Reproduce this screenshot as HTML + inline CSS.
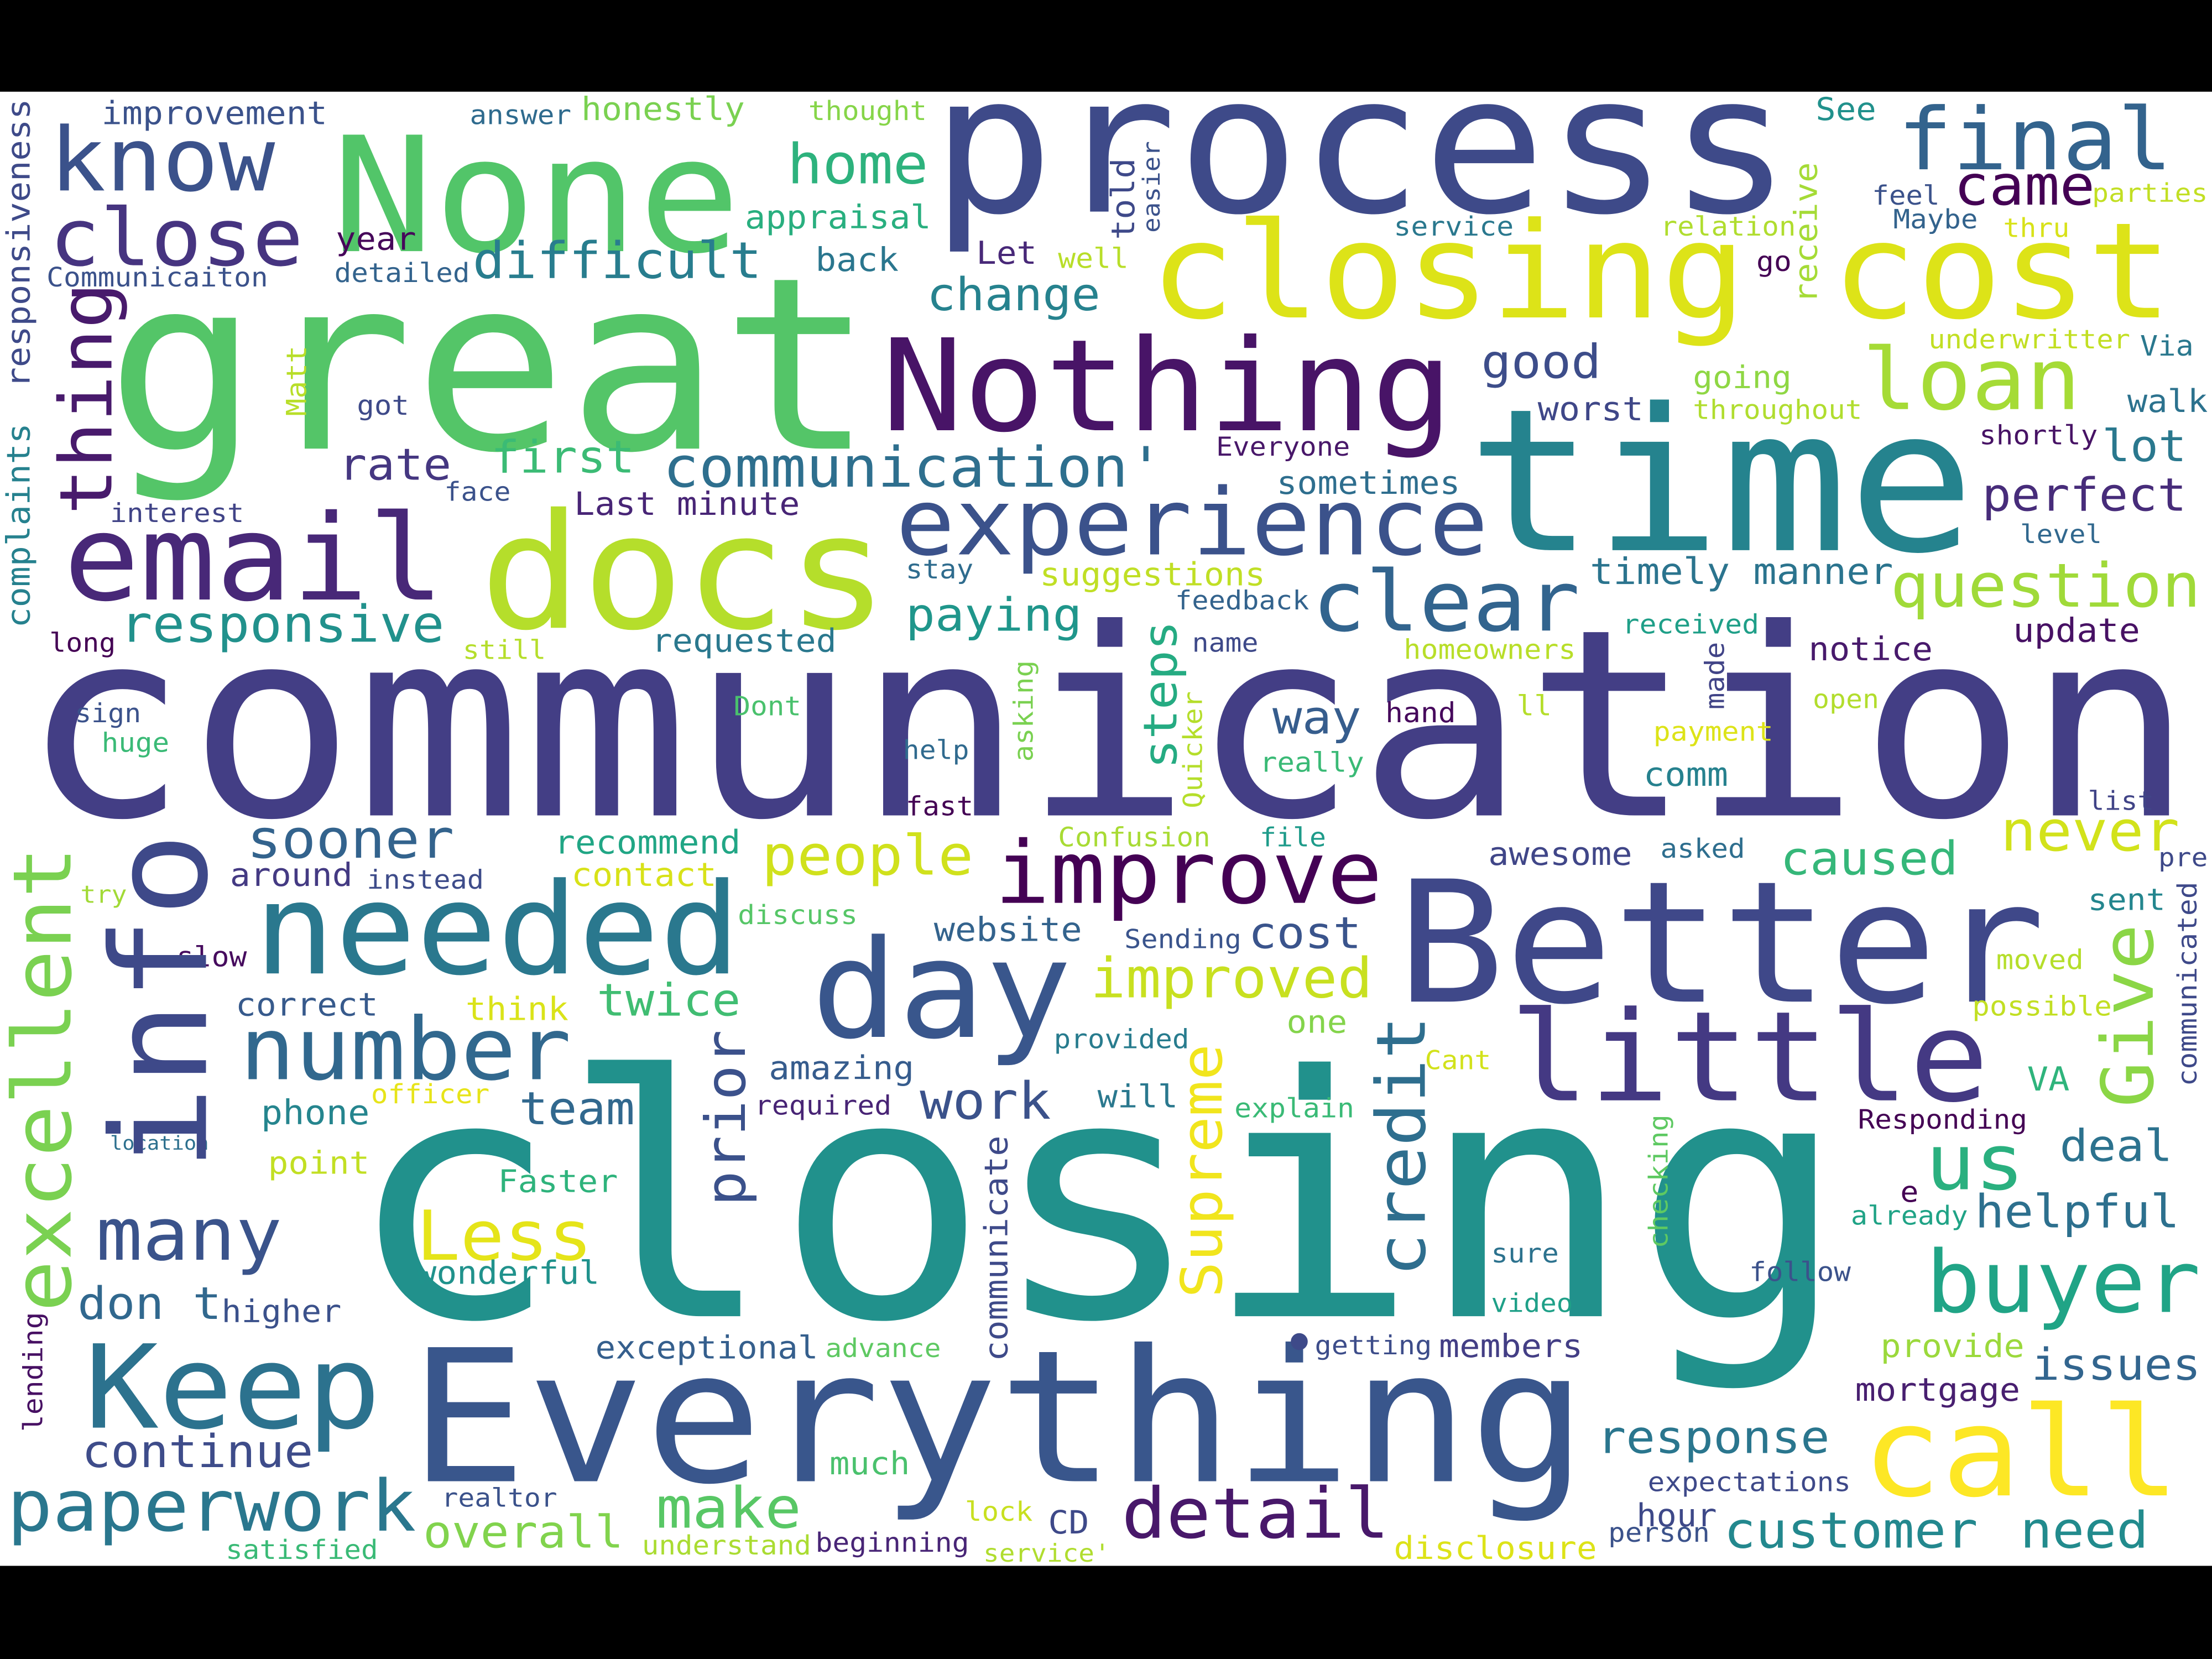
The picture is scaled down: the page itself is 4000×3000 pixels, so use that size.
<!DOCTYPE html>
<html><head><meta charset="utf-8"><title>Word cloud</title>
<style>html,body{margin:0;padding:0;background:#000}svg{display:block}</style></head>
<body>
<svg id="cloud" xmlns="http://www.w3.org/2000/svg" width="4000" height="3000" viewBox="0 0 1568 1176" preserveAspectRatio="none">
<rect x="0" y="0" width="1568" height="65" fill="#000"/>
<rect x="0" y="65" width="1568" height="1045" fill="#fff"/>
<rect x="0" y="1110" width="1568" height="66" fill="#000"/>
<g id="words"></g>
</svg>
<script>
// [text, x, baselineY, width, color, rotated]  (rotated: x = baseline x, y = start (bottom))
const words = [
["communication",15,578,1540,"#433e85",0],
["closing",245,933,1065,"#21918c",0],
["great",75,318,545,"#54c568",0],
["process",660,150,610,"#3e4a89",0],
["None",235,178,290,"#52c569",0],
["time",1040,390,360,"#25838e",0],
["closing cost",815,225,725,"#dde318",0],
["Nothing",625,305,405,"#481467",0],
["docs",340,445,290,"#b5de2b",0],
["email",45,425,270,"#482878",0],
["experience",635,393,420,"#3b528b",0],
["Better",990,710,460,"#3f4889",0],
["Everything",290,1050,835,"#39568c",0],
["day",575,735,185,"#39568c",0],
["needed",180,690,345,"#2a788e",0],
["little",1070,780,340,"#443983",0],
["improve",705,640,275,"#440154",0],
["number",170,765,235,"#31688e",0],
["Keep",60,1012,210,"#2c728e",0],
["call",1320,1060,225,"#fde725",0],
["detail",795,1090,190,"#48186a",0],
["paperwork",5,1085,290,"#2a778e",0],
["know",35,135,160,"#3b528b",0],
["close",35,188,180,"#463480",0],
["final",1345,120,195,"#33638d",0],
["loan",1320,290,155,"#a5db36",0],
["clear",930,447,190,"#32648e",0],
["question",1340,430,220,"#a0da39",0],
["communication'",470,345,355,"#2e6f8e",0],
["difficult",335,197,205,"#287d8e",0],
["responsive",85,455,230,"#21918c",0],
["rate",240,340,80,"#453781",0],
["first",348,335,102,"#3bbb75",0],
["home",558,130,100,"#2db27d",0],
["appraisal",528,162,132,"#29af7f",0],
["back",578,192,59,"#2a768e",0],
["change",657,220,123,"#26828e",0],
["came",1385,145,100,"#440154",0],
["good",1050,268,85,"#3d4d8a",0],
["worst",1090,298,75,"#3f4788",0],
["perfect",1405,362,145,"#472c7a",0],
["lot",1490,327,60,"#2a788e",0],
["timely manner",1127,414,215,"#2b748e",0],
["paying",642,447,125,"#1f968b",0],
["people",540,620,150,"#d0e11c",0],
["sooner",175,608,147,"#33638d",0],
["improved",773,707,200,"#c8e020",0],
["Less",295,893,125,"#e5e419",0],
["many",68,893,132,"#3a538b",0],
["us",1365,843,70,"#2ab07f",0],
["buyer",1365,930,195,"#20a486",0],
["helpful",1400,870,145,"#2d708e",0],
["deal",1460,823,80,"#2c728e",0],
["sent",1480,645,55,"#24868e",0],
["never",1418,603,127,"#d2e21b",0],
["caused",1262,620,126,"#35b779",0],
["awesome",1055,613,102,"#404688",0],
["asked",1177,608,60,"#2e6e8e",0],
["list",1480,574,47,"#414487",0],
["pre",1530,614,35,"#3e4989",0],
["notice",1282,468,88,"#481a6c",0],
["update",1427,455,90,"#471164",0],
["received",1150,449,97,"#1f9f88",0],
["homeowners",995,467,122,"#b8de29",0],
["open",1285,502,47,"#b2dd2d",0],
["hand",982,512,50,"#46085c",0],
["ll",1075,507,25,"#b5de2b",0],
["payment",1172,525,85,"#dde318",0],
["comm",1165,557,60,"#26818e",0],
["way",902,520,63,"#365d8d",0],
["really",893,547,74,"#3aba76",0],
["help",640,538,47,"#306a8e",0],
["fast",642,578,48,"#440154",0],
["Confusion",750,600,108,"#a8db34",0],
["file",893,600,47,"#1e9b8a",0],
["cost",885,672,80,"#3a548c",0],
["Sending",797,672,83,"#3a548c",0],
["website",662,667,105,"#33638d",0],
["discuss",523,655,85,"#56c667",0],
["recommend",393,605,132,"#21a685",0],
["contact",405,628,103,"#d8e219",0],
["around",163,628,87,"#443a83",0],
["instead",260,630,83,"#3e4c8a",0],
["try",57,640,33,"#a2da37",0],
["slow",125,685,50,"#460b5e",0],
["correct",167,720,101,"#375a8c",0],
["think",330,723,73,"#dae319",0],
["twice",423,720,102,"#40bd72",0],
["amazing",545,765,103,"#365c8d",0],
["provided",747,743,96,"#287c8e",0],
["one",912,732,43,"#84d44b",0],
["Cant",1010,758,47,"#d2e21b",0],
["possible",1398,720,99,"#c2df23",0],
["moved",1415,687,62,"#b5de2b",0],
["VA",1437,773,30,"#2fb47c",0],
["Responding",1317,800,120,"#440154",0],
["will",778,785,57,"#2a788e",0],
["explain",875,792,85,"#3aba76",0],
["team",368,797,82,"#31688e",0],
["work",652,793,93,"#3b528b",0],
["required",535,790,97,"#482475",0],
["phone",185,797,77,"#25858e",0],
["officer",263,782,84,"#e7e419",0],
["location",78,815,70,"#2d708e",0],
["point",190,832,72,"#c2df23",0],
["Faster",353,845,85,"#2eb37c",0],
["don t",55,935,102,"#31688e",0],
["higher",157,937,85,"#3b518b",0],
["wonderful",295,910,130,"#20928c",0],
["exceptional",422,963,158,"#355f8d",0],
["advance",585,962,82,"#5ec962",0],
["getting",932,960,83,"#3d4d8a",0],
["members",1020,962,102,"#433e85",0],
["video",1057,930,58,"#1fa088",0],
["sure",1057,895,48,"#2c728e",0],
["follow",1240,908,72,"#3b528b",0],
["already",1312,868,83,"#20a386",0],
["e",1347,852,13,"#440154",0],
["provide",1333,962,102,"#9bd93c",0],
["issues",1440,978,120,"#32658e",0],
["mortgage",1315,993,117,"#481f70",0],
["response",1132,1030,165,"#2a768e",0],
["expectations",1168,1057,144,"#3e4989",0],
["hour",1160,1082,57,"#3e4989",0],
["person",1140,1093,72,"#3b528b",0],
["customer",1222,1097,180,"#23888e",0],
["need",1432,1097,91,"#228b8d",0],
["disclosure",988,1105,144,"#dde318",0],
["CD",743,1087,29,"#3e4989",0],
["lock",684,1078,48,"#c8e020",0],
["beginning",578,1100,109,"#482576",0],
["service'",697,1107,90,"#b0dd2f",0],
["understand",455,1102,120,"#aadc32",0],
["make",465,1083,103,"#58c765",0],
["much",588,1045,57,"#4ac16d",0],
["overall",300,1097,142,"#81d34d",0],
["realtor",313,1068,82,"#3b528b",0],
["satisfied",160,1105,108,"#3aba76",0],
["continue",58,1040,164,"#3e4c8a",0],
["huge",72,533,48,"#3aba76",0],
["sign",53,512,47,"#3b528b",0],
["long",35,462,47,"#440154",0],
["still",328,467,59,"#b5de2b",0],
["requested",462,462,131,"#2a788e",0],
["Dont",520,507,48,"#4ac16d",0],
["name",845,462,47,"#3e4989",0],
["feedback",833,432,95,"#33638d",0],
["stay",642,410,48,"#2f6c8e",0],
["suggestions",737,415,160,"#c0df25",0],
["Last minute",407,365,160,"#482576",0],
["face",315,355,47,"#3b528b",0],
["interest",78,370,95,"#414487",0],
["got",253,294,37,"#3e4a89",0],
["Communicaiton",33,203,157,"#3b528b",0],
["detailed",237,200,96,"#33638d",0],
["year",238,177,57,"#46075a",0],
["improvement",72,88,160,"#3b528b",0],
["answer",333,88,72,"#2f6b8e",0],
["honestly",412,85,116,"#7ad151",0],
["thought",573,85,84,"#86d549",0],
["Let",692,187,43,"#482878",0],
["well",750,190,50,"#b8de29",0],
["service",988,167,85,"#2a788e",0],
["sometimes",905,350,130,"#2e6e8e",0],
["Everyone",862,323,95,"#481769",0],
["going",1200,275,70,"#8fd744",0],
["throughout",1200,297,120,"#b0dd2f",0],
["underwritter",1367,247,143,"#c2df23",0],
["Via",1517,252,38,"#2a788e",0],
["walk",1508,292,57,"#2c728e",0],
["shortly",1403,315,84,"#471365",0],
["level",1432,385,58,"#31688e",0],
["relation",1177,167,96,"#b0dd2f",0],
["go",1245,192,25,"#440154",0],
["Maybe",1342,162,60,"#33638d",0],
["thru",1420,168,47,"#d8e219",0],
["feel",1327,145,48,"#3b528b",0],
["parties",1483,143,82,"#c2df23",0],
["See",1287,85,43,"#21918c",0],
["excellent",50,930,330,"#7ad151",1],
["info",146,830,240,"#3e4989",1],
["thing",79,365,165,"#481a6c",1],
["responsiveness",21,275,205,"#3e4a89",1],
["complaints",21,445,145,"#26818e",1],
["lending",30,1015,85,"#471063",1],
["steps",834,545,105,"#25ab82",1],
["prior",528,855,125,"#3b518b",1],
["Supreme",866,920,180,"#f1e51d",1],
["credit",1010,905,185,"#2e6e8e",1],
["Give",1526,785,130,"#8bd646",1],
["communicate",714,965,160,"#3e4a89",1],
["Quicker",852,573,83,"#b5de2b",1],
["asking",732,540,72,"#7ad151",1],
["told",804,170,58,"#3e4989",1],
["easier",822,165,65,"#3b528b",1],
["receive",1288,215,100,"#a5db36",1],
["Matt",217,295,50,"#b8de29",1],
["made",1222,503,48,"#414487",1],
["checking",1182,885,95,"#5ec962",1],
["communicated",1557,770,145,"#3e4989",1]
];
const NS = "http://www.w3.org/2000/svg";
const g = document.getElementById("words");
words.forEach(function(w){
  const fs = 0.94 * w[3] / (w[0].length * 0.602);
  const t = document.createElementNS(NS, "text");
  
  
  t.setAttribute("font-family", "'DejaVu Sans Mono','Liberation Mono',monospace");
  t.setAttribute("font-size", fs.toFixed(2));
  t.setAttribute("fill", w[4]);
  t.setAttribute("textLength", w[3]);
  t.setAttribute("lengthAdjust", "spacingAndGlyphs");
  t.setAttribute("xml:space", "preserve");
  if (w[5]) {
    t.setAttribute("x", 0); t.setAttribute("y", 0);
    t.setAttribute("transform", "translate(" + w[1] + "," + w[2] + ") rotate(-90)");
  } else {
    t.setAttribute("x", w[1]); t.setAttribute("y", w[2]);
  }
  t.textContent = w[0];
  g.appendChild(t);
});
const dot = document.createElementNS(NS, "circle");


dot.setAttribute("cx", 921); dot.setAttribute("cy", 951); dot.setAttribute("r", 6); dot.setAttribute("fill", "#3e4a89");
g.appendChild(dot);
</script>
</body></html>
